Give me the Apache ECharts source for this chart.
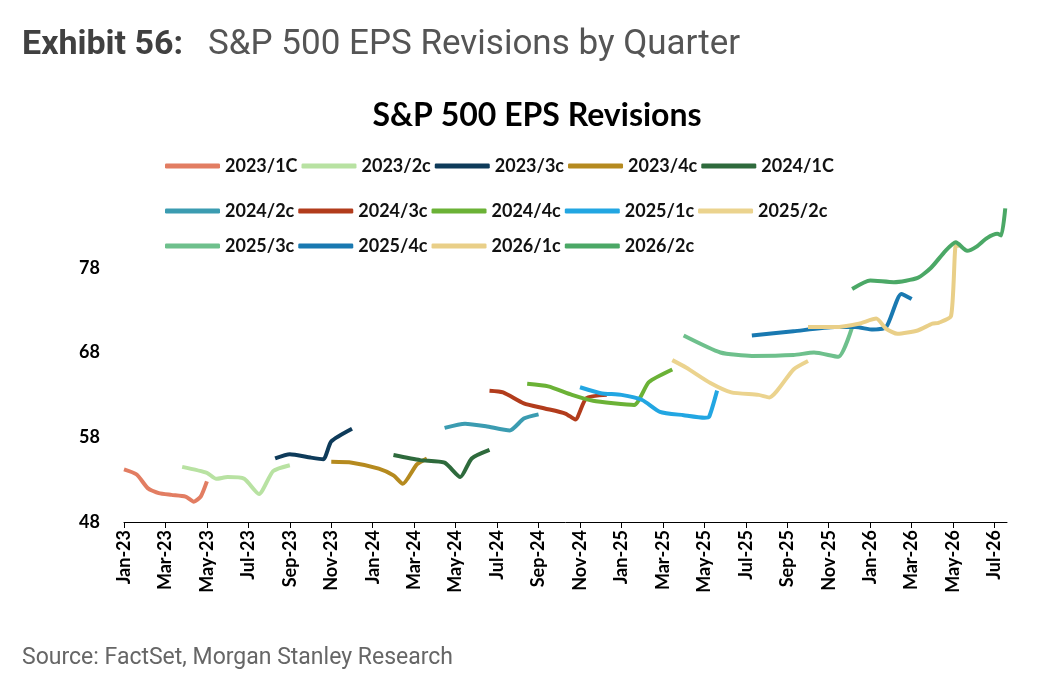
<!DOCTYPE html>
<html>
<head>
<meta charset="utf-8">
<script src="https://cdn.jsdelivr.net/npm/echarts@6/dist/echarts.min.js"></script>
<style>
  body { margin: 0; background: #fff; }
  #main { width: 1048px; height: 700px; }
</style>
</head>
<body>
<div id="main"></div>
<script>
// series names, colours and points [date, EPS]
var names = ['2023/1C','2023/2c','2023/3c','2023/4c','2024/1C','2024/2c','2024/3c','2024/4c','2025/1c','2025/2c','2025/3c','2025/4c','2026/1c','2026/2c'];
var colors = ['#E27D62','#B8E2A2','#0E3B5A','#B58A1F','#2E6A3C','#3B9CB1','#B23C1C','#6BB236','#22A6E2','#EBD38E','#6EC08C','#1979B1','#E9CF88','#4BA866'];

var s23q1 = [['2023-01-01',54.2],['2023-01-20',53.6],['2023-02-05',52.0],['2023-02-20',51.4],['2023-03-10',51.2],['2023-03-31',51.0],['2023-04-12',50.4],['2023-04-22',51.0],['2023-05-01',52.8]];
var s23q2 = [['2023-03-26',54.5],['2023-05-01',53.8],['2023-05-15',53.1],['2023-06-01',53.3],['2023-06-25',53.1],['2023-07-17',51.3],['2023-08-07',54.0],['2023-09-01',54.7]];
var s23q3 = [['2023-08-10',55.5],['2023-09-01',56.0],['2023-10-01',55.6],['2023-10-20',55.4],['2023-11-01',57.5],['2023-12-01',59.0]];
var s23q4 = [['2023-11-01',55.1],['2023-12-01',55.0],['2024-01-10',54.3],['2024-02-01',53.5],['2024-02-14',52.5],['2024-03-05',54.8],['2024-03-20',55.5]];
var s24q1 = [['2024-02-01',55.9],['2024-03-10',55.3],['2024-04-15',55.0],['2024-05-08',53.3],['2024-05-25',55.5],['2024-06-20',56.5]];
var s24q2 = [['2024-04-15',59.1],['2024-05-15',59.6],['2024-06-15',59.3],['2024-07-20',58.8],['2024-08-10',60.2],['2024-09-01',60.7]];
var s24q3 = [['2024-06-20',63.5],['2024-07-10',63.3],['2024-08-10',62.0],['2024-09-10',61.4],['2024-10-10',60.8],['2024-10-25',60.1],['2024-11-10',62.6],['2024-12-10',63.0]];
var s24q4 = [['2024-08-15',64.3],['2024-09-15',64.0],['2024-10-20',63.0],['2024-11-20',62.3],['2024-12-20',62.0],['2025-01-20',61.8],['2025-02-10',64.5],['2025-03-15',66.0]];
var s25q1 = [['2024-11-01',63.9],['2024-12-01',63.2],['2025-01-01',63.0],['2025-02-01',62.4],['2025-02-25',61.0],['2025-04-01',60.6],['2025-05-01',60.3],['2025-05-08',60.4],['2025-05-20',63.5]];
var s25q2 = [['2025-03-15',67.1],['2025-04-05',66.2],['2025-05-10',64.4],['2025-06-10',63.3],['2025-07-20',63.0],['2025-08-05',62.7],['2025-09-10',66.0],['2025-10-01',67.0]];
var s25q3 = [['2025-04-01',70.0],['2025-05-25',68.0],['2025-07-10',67.6],['2025-09-10',67.7],['2025-10-10',68.0],['2025-11-15',67.5],['2025-12-05',71.0]];
var s25q4 = [['2025-07-10',70.0],['2025-09-10',70.5],['2025-11-10',71.0],['2025-12-10',71.0],['2026-01-05',70.7],['2026-01-25',71.0],['2026-02-15',74.9],['2026-03-01',74.3]];
var s26q1 = [['2025-10-01',71.0],['2025-11-10',71.0],['2025-12-15',71.4],['2026-01-10',72.0],['2026-01-25',70.8],['2026-02-10',70.2],['2026-03-10',70.6],['2026-04-01',71.4],['2026-04-10',71.5],['2026-04-28',72.3],['2026-05-05',80.6],['2026-05-10',80.6]];
var s26q2 = [['2025-12-05',75.5],['2026-01-01',76.5],['2026-02-05',76.3],['2026-03-10',76.8],['2026-03-30',78.0],['2026-04-20',80.0],['2026-05-05',81.0],['2026-05-22',80.0],['2026-06-05',80.5],['2026-06-20',81.5],['2026-07-05',82.0],['2026-07-11',81.8],['2026-07-17',85.0]];
var seriesData = [s23q1,s23q2,s23q3,s23q4,s24q1,s24q2,s24q3,s24q4,s25q1,s25q2,s25q3,s25q4,s26q1,s26q2];

var monthNames = ['Jan','Feb','Mar','Apr','May','Jun','Jul','Aug','Sep','Oct','Nov','Dec'];

// date -> months since Jan 2023
function toMonths(d) {
    var p = d.split('-');
    var y = +p[0], m = +p[1] - 1, day = +p[2];
    var dim = new Date(y, m + 1, 0).getDate();
    return (y - 2023) * 12 + m + (day - 1) / dim;
}

var series = [];
for (var i = 0; i < names.length; i++) {
    series.push({
        name: names[i],
        type: 'line',
        showSymbol: false,
        smooth: 0.2,
        lineStyle: { width: 4, color: colors[i] },
        itemStyle: { color: colors[i] },
        data: seriesData[i].map(function (p) { return [toMonths(p[0]), p[1]]; })
    });
}

function legendRow(top, list) {
    return {
        top: top, left: 160,
        itemWidth: 55, itemHeight: 5, itemGap: 4,
        icon: 'roundRect',
        data: list,
        textStyle: { fontFamily: 'Lato', fontWeight: 'bold', fontSize: 18, color: '#111', width: 94 }
    };
}

var myChart = echarts.init(document.getElementById('main'));
var option = {
    backgroundColor: '#fff',
    title: [
        { text: 'S&P 500 EPS Revisions', left: 532, textAlign: 'center', top: 95,
          textStyle: { fontFamily: 'Lato', fontWeight: 'bold', fontSize: 32, color: '#000' } }
    ],
    graphic: [
        { type: 'text', left: 22, top: 28, style: { text: 'Exhibit 56:', font: 'bold 34px Roboto', fill: '#404040' } },
        { type: 'text', left: 208, top: 28, style: { text: 'S&P 500 EPS Revisions by Quarter', font: '35px Roboto', fill: '#555' } },
        { type: 'text', left: 22, top: 647, style: { text: 'Source: FactSet, Morgan Stanley Research', font: '23px Roboto', fill: '#666' } }
    ],
    legend: [
        legendRow(152, names.slice(0, 5)),
        legendRow(197, names.slice(5, 10)),
        legendRow(232, names.slice(10, 14))
    ],
    grid: { left: 124, right: 41, top: 183, bottom: 178 },
    xAxis: {
        type: 'value', min: 0, max: 42.6, interval: 2,
        axisLine: { lineStyle: { color: '#000', width: 1 } },
        axisTick: { show: true, length: 6, lineStyle: { color: '#000' } },
        splitLine: { show: false },
        axisLabel: {
            rotate: 90, fontFamily: 'Lato', fontWeight: 'bold', fontSize: 18, color: '#000',
            showMaxLabel: false,
            formatter: function (v) {
                var y = 23 + Math.floor(v / 12);
                return monthNames[v % 12] + '-' + y;
            }
        }
    },
    yAxis: {
        type: 'value', min: 48, max: 88, interval: 10,
        axisLine: { show: false }, axisTick: { show: false },
        splitLine: { show: false },
        axisLabel: {
            fontFamily: 'Lato', fontWeight: 'bold', fontSize: 18, color: '#000', margin: 24,
            formatter: function (v) { return v >= 88 ? '' : v; }
        }
    },
    series: series
};
myChart.setOption(option);
</script>
</body>
</html>
